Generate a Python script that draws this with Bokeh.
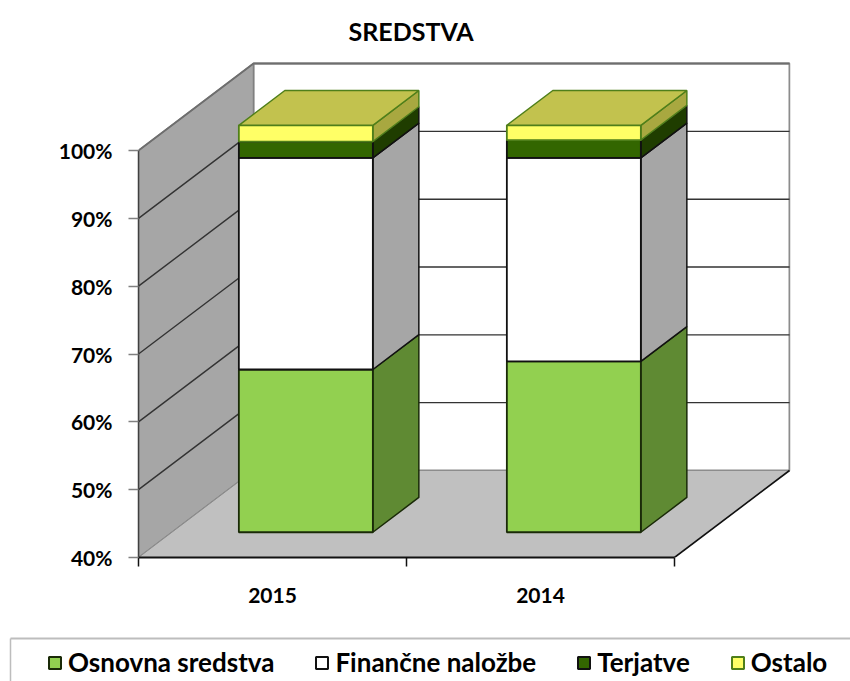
from bokeh.plotting import figure
from bokeh.embed import file_html
from bokeh.resources import INLINE
from bokeh.layouts import column
from bokeh.models import FixedTicker, Legend, LegendItem

TITLE = "SREDSTVA"
YEARS = ["2015", "2014"]
OSNOVNA = [64.0, 65.2]
FINANCNE = [31.2, 30.0]
TERJATVE = [2.4, 2.6]
OSTALO = [2.4, 2.2]
SERIES_NAMES = ["Osnovna sredstva", "Finančne naložbe", "Terjatve", "Ostalo"]
Y_TICKS = [40, 50, 60, 70, 80, 90, 100]
Y_LABELS = ["40%", "50%", "60%", "70%", "80%", "90%", "100%"]

# styles: front, side, edge
STYLES = [
    ("#92d050", "#5f8a33", "#1a2a08"),
    ("#ffffff", "#a6a6a6", "#111111"),
    ("#336600", "#1f3d00", "#111111"),
    ("#ffff66", "#a8a840", "#4f7f1a"),
]
TOP_FILL = "#c2c24e"
FONT = "Lato"

# oblique projection
PX_X, PX_Y = 268.0, 6.783
DX, DY = 115.0 / PX_X, 87.0 / PX_Y
D0, D1 = 0.29, 0.69
BAR_W = 0.5
YMIN, YMAX = 40, 100


def proj(x, y, d):
    return x + DX * d, y + DY * d


def poly(points):
    pts = [proj(*pt) for pt in points]
    return [a for a, _ in pts], [b for _, b in pts]


p = figure(
    width=850, height=630, output_backend="svg", toolbar_location=None,
    x_range=(0, 652 / PX_X), y_range=(YMIN, YMIN + 497 / PX_Y),
    min_border_left=138, min_border_right=60, min_border_top=60, min_border_bottom=73,
    background_fill_color="white", border_fill_color="white", outline_line_color=None,
)
p.grid.visible = False

p.title.text = TITLE
p.title.text_font = FONT
p.title.text_font_style = "bold"
p.title.text_font_size = "25px"
p.title.text_color = "#000000"
p.title.align = "left"
p.title.offset = 210
p.title.standoff = 26
p.title.vertical_align = "top"

# walls and floor
W = len(YEARS)
xs, ys = poly([(0, YMIN, 1), (W, YMIN, 1), (W, YMAX, 1), (0, YMAX, 1)])
p.patch(xs, ys, fill_color="white", line_color="#8c8c8c", line_width=2)
xs, ys = poly([(0, YMIN, 0), (0, YMAX, 0), (0, YMAX, 1), (0, YMIN, 1)])
p.patch(xs, ys, fill_color="#a6a6a6", line_color="#808080", line_width=1.5)
xs, ys = poly([(0, YMIN, 0), (W, YMIN, 0), (W, YMIN, 1), (0, YMIN, 1)])
p.patch(xs, ys, fill_color="#c0c0c0", line_color="#8c8c8c", line_width=1)

# grid lines on walls
for t in Y_TICKS[1:-1]:
    xs, ys = poly([(0, t, 0), (0, t, 1), (W, t, 1)])
    p.line(xs, ys, line_color="#333333", line_width=1.4)
xs, ys = poly([(0, YMAX, 0), (0, YMAX, 1), (W, YMAX, 1)])
p.line(xs, ys, line_color="#6e6e6e", line_width=2)
xs, ys = poly([(W, YMIN, 0), (W, YMIN, 1)])
p.line(xs, ys, line_color="#111111", line_width=1.6)

# bars
VALUES = [OSNOVNA, FINANCNE, TERJATVE, OSTALO]
base = [0.0] * len(YEARS)
for k, vals in enumerate(VALUES):
    front, side, edge = STYLES[k]
    fx, fy, sx, sy = [], [], [], []
    for i, v in enumerate(vals):
        x0 = i + (1 - BAR_W) / 2
        x1 = x0 + BAR_W
        lo = max(base[i], YMIN)
        hi = base[i] + v
        a, b = poly([(x0, lo, D0), (x1, lo, D0), (x1, hi, D0), (x0, hi, D0)])
        fx.append(a)
        fy.append(b)
        a, b = poly([(x1, lo, D0), (x1, lo, D1), (x1, hi, D1), (x1, hi, D0)])
        sx.append(a)
        sy.append(b)
        base[i] = hi
    p.patches(sx, sy, fill_color=side, line_color=edge, line_width=1.5)
    p.patches(fx, fy, fill_color=front, line_color=edge, line_width=1.8)

# top faces
tx, ty = [], []
for i in range(len(YEARS)):
    x0 = i + (1 - BAR_W) / 2
    x1 = x0 + BAR_W
    a, b = poly([(x0, base[i], D0), (x1, base[i], D0), (x1, base[i], D1), (x0, base[i], D1)])
    tx.append(a)
    ty.append(b)
p.patches(tx, ty, fill_color=TOP_FILL, line_color=STYLES[3][2], line_width=1.5)

# axes
ya = p.yaxis[0]
ya.ticker = FixedTicker(ticks=Y_TICKS)
ya.bounds = (YMIN, YMAX)
ya.major_label_overrides = dict(zip(Y_TICKS, Y_LABELS))
ya.major_tick_out = 10
ya.major_tick_in = 0
ya.minor_tick_out = 0
ya.minor_tick_in = 0
ya.major_tick_line_color = "#808080"
ya.major_tick_line_width = 1.5
ya.axis_line_color = "#404040"
ya.axis_line_width = 1.5
ya.major_label_standoff = 16
ya.major_label_text_font = FONT
ya.major_label_text_font_style = "bold"
ya.major_label_text_font_size = "21px"
ya.major_label_text_color = "#000000"

xa = p.xaxis[0]
centers = [i + 0.5 for i in range(len(YEARS))]
xa.ticker = FixedTicker(ticks=centers, minor_ticks=list(range(len(YEARS) + 1)))
xa.bounds = (0, len(YEARS))
xa.major_label_overrides = dict(zip(centers, YEARS))
xa.major_tick_out = 0
xa.major_tick_in = 0
xa.minor_tick_out = 9
xa.minor_tick_in = 0
xa.minor_tick_line_color = "#111111"
xa.minor_tick_line_width = 1.5
xa.axis_line_color = "#111111"
xa.axis_line_width = 2
xa.major_label_standoff = 21
xa.major_label_text_font = FONT
xa.major_label_text_font_style = "bold"
xa.major_label_text_font_size = "21px"
xa.major_label_text_color = "#000000"

# legend strip: a frame that fills the figure, 1 data unit = 1 pixel
q = figure(
    width=850, height=51, output_backend="svg", toolbar_location=None,
    x_range=(0, 850), y_range=(51, 0),
    min_border=0, background_fill_color="white", border_fill_color="white",
    outline_line_color=None, x_axis_location=None, y_axis_location=None,
)
q.grid.visible = False
q.line([10, 850], [8, 8], line_color="#bdbdbd", line_width=2)
q.line([10, 10], [8, 51], line_color="#bdbdbd", line_width=1.5)

items = []
for k, name in enumerate(SERIES_NAMES):
    front, _, edge = STYLES[k]
    r = q.patches(xs=[[]], ys=[[]], fill_color=front, line_color=edge, line_width=2)
    items.append(LegendItem(label=name, renderers=[r]))

legend = Legend(
    items=items, orientation="horizontal", location=(47, 3),
    border_line_color=None, background_fill_alpha=0,
    glyph_width=15, glyph_height=15, label_standoff=6, spacing=40,
    padding=0, margin=0,
    label_text_font=FONT, label_text_font_style="bold",
    label_text_font_size="26px", label_text_color="#000000",
)
q.add_layout(legend, "center")

open("out.html", "w").write(file_html(column(p, column(q), spacing=0), INLINE))
